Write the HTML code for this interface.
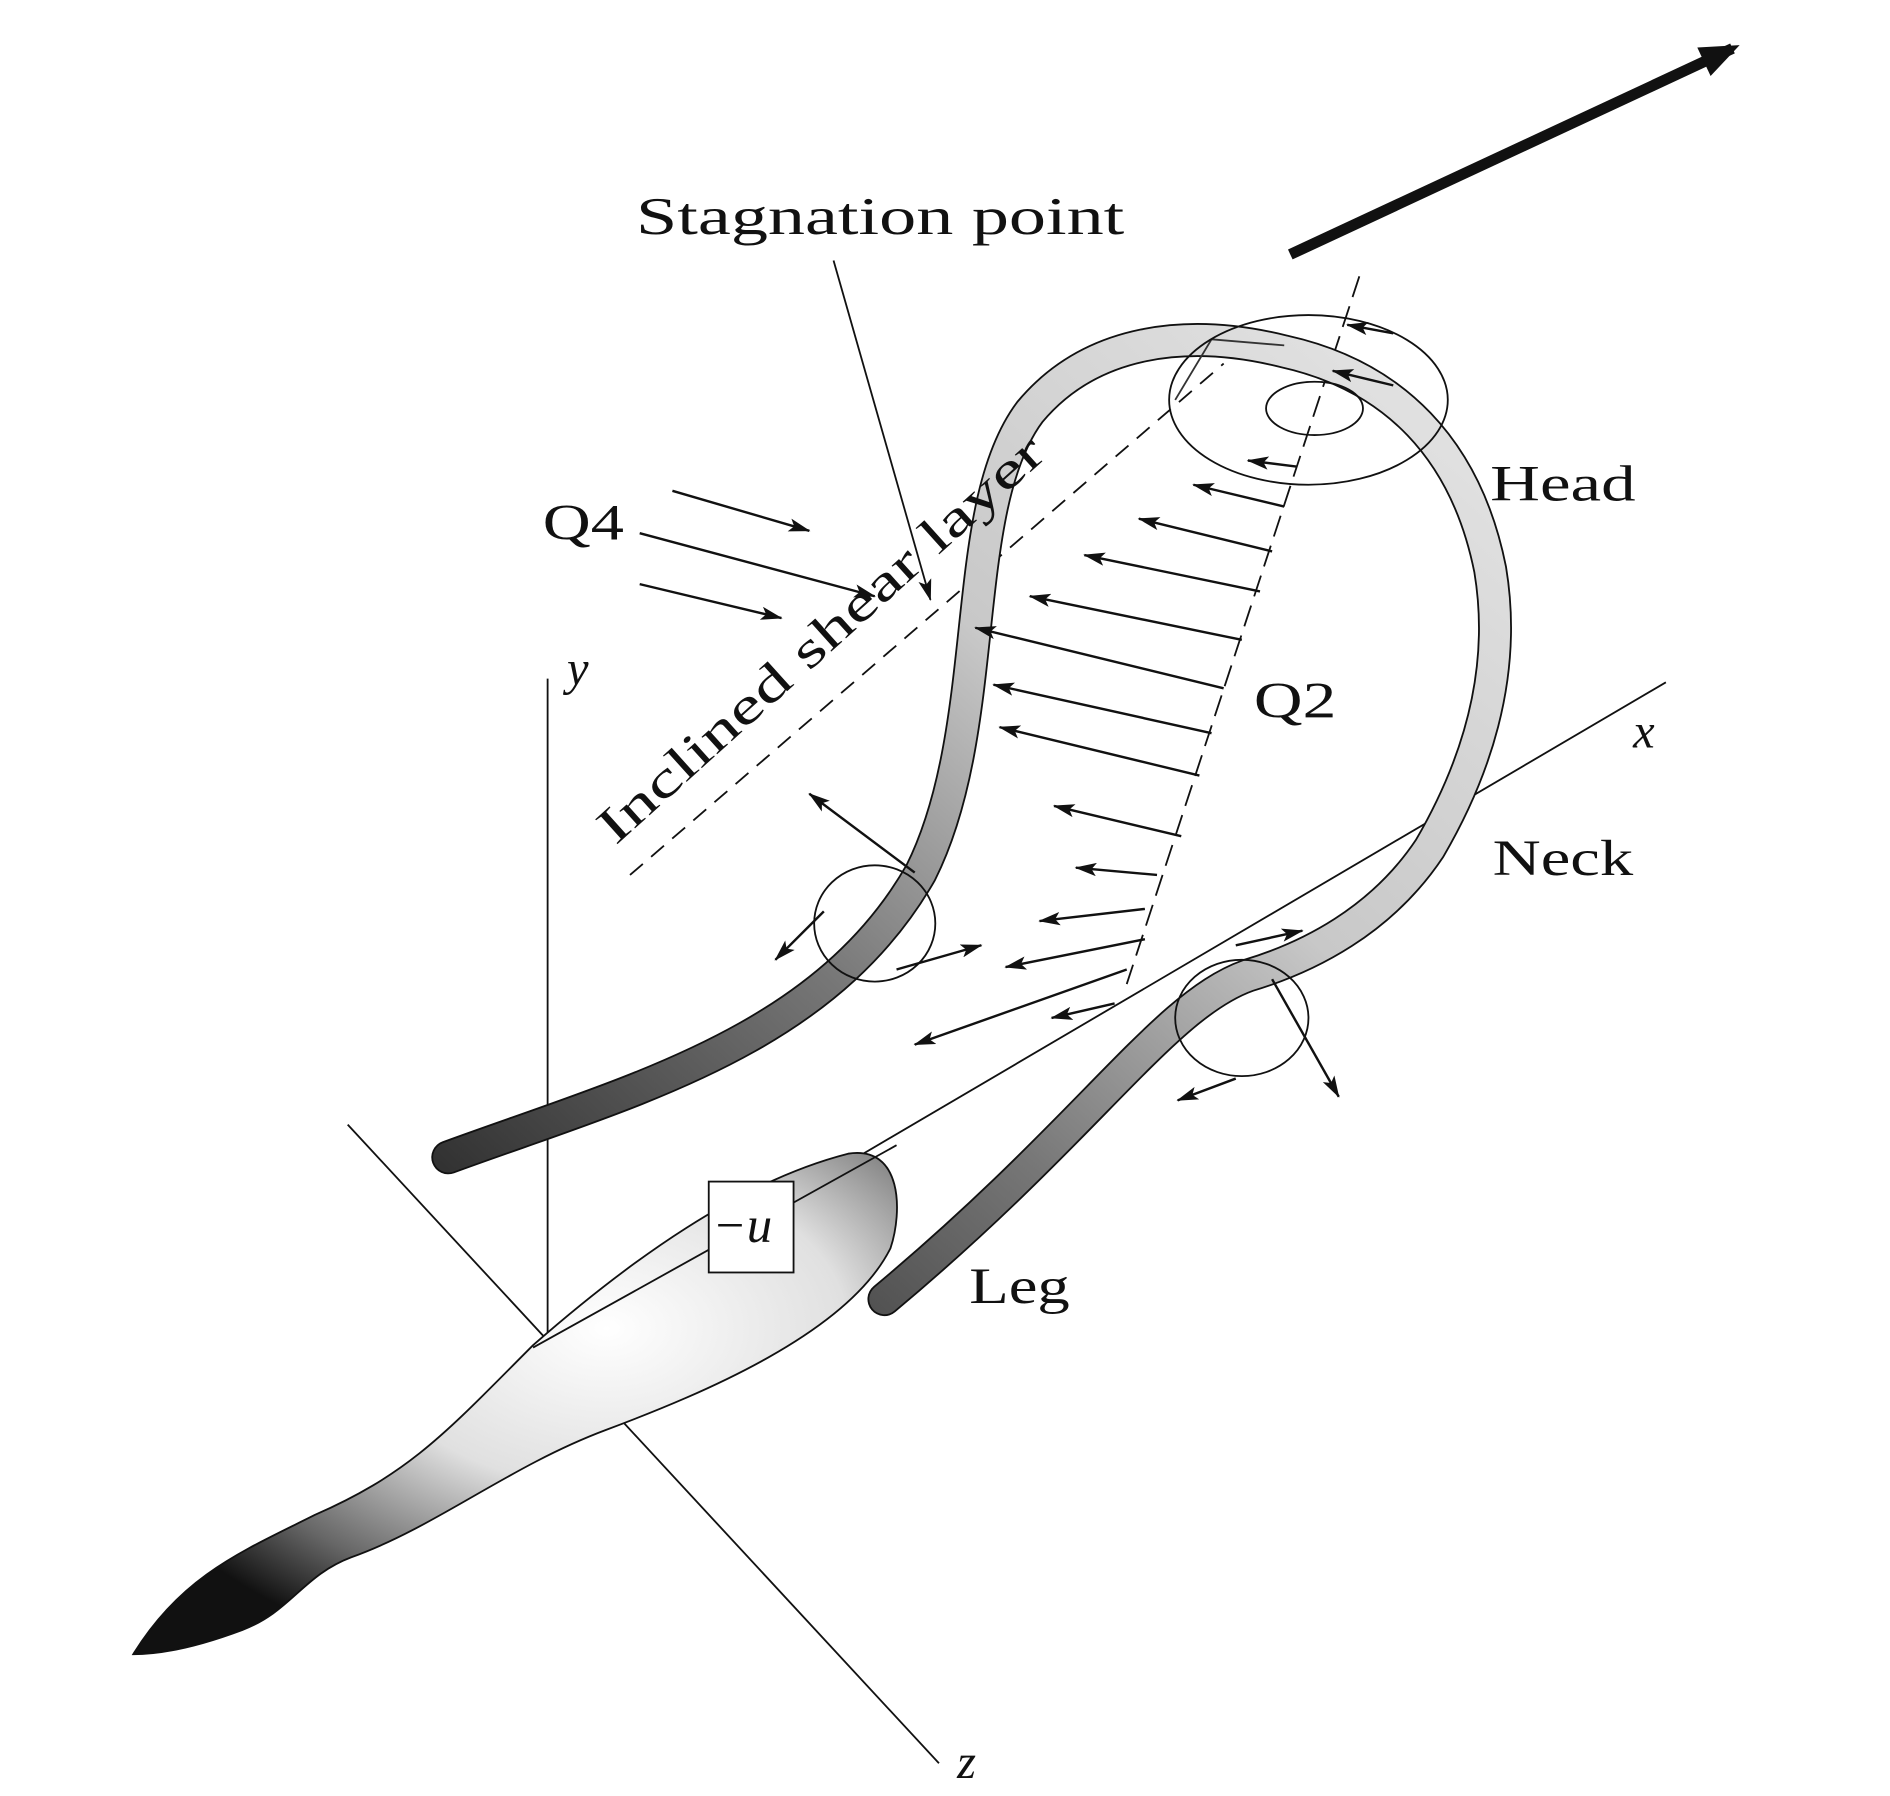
<!DOCTYPE html>
<html><head><meta charset="utf-8"><style>
html,body{margin:0;padding:0;background:#fff;}
svg{display:block;}
text{font-family:"Liberation Serif",serif;fill:#111;}
</style></head><body>
<svg width="1890" height="1796" viewBox="0 0 1560 1482" preserveAspectRatio="none" xmlns="http://www.w3.org/2000/svg">
<defs>
<marker id="a" markerWidth="18" markerHeight="11" refX="17" refY="5.5" orient="auto" markerUnits="userSpaceOnUse" viewBox="0 0 18 11">
<path d="M0,0 L18,5.5 L0,11 L4,5.5 z" fill="#111"/></marker>
<marker id="ab" viewBox="0 0 10 8" refX="8" refY="4" markerWidth="34" markerHeight="26" orient="auto" markerUnits="userSpaceOnUse">
<path d="M0,0 L10,4 L0,8 z" fill="#111"/></marker>
<linearGradient id="tube" x1="0" y1="1" x2="1" y2="0">
<stop offset="0" stop-color="#222"/><stop offset="0.35" stop-color="#777"/><stop offset="0.6" stop-color="#c8c8c8"/><stop offset="1" stop-color="#e6e6e6"/></linearGradient>
<radialGradient id="body" cx="0.62" cy="0.35" r="0.7">
<stop offset="0" stop-color="#fff"/><stop offset="0.45" stop-color="#e0e0e0"/><stop offset="0.8" stop-color="#666"/><stop offset="1" stop-color="#111"/></radialGradient>
</defs>
<g stroke="#111" fill="none">
<line x1="1065" y1="210" x2="1430" y2="40" stroke-width="9" marker-end="url(#ab)"/>
<line x1="452" y1="560" x2="452" y2="1110" stroke-width="1.5"/>
<line x1="440" y1="1112" x2="1375" y2="563" stroke-width="1.5"/>
<line x1="287" y1="928" x2="775" y2="1455" stroke-width="1.5"/>
<line x1="520" y1="722" x2="1010" y2="300" stroke-width="1.5" stroke-dasharray="14,9"/>
<line x1="1122" y1="228" x2="930" y2="812" stroke-width="1.5" stroke-dasharray="18,8"/>
<line x1="688" y1="215" x2="768" y2="495" stroke-width="1.5" marker-end="url(#a)"/>
<line x1="555" y1="405" x2="668" y2="438" stroke-width="2" marker-end="url(#a)"/>
<line x1="528" y1="440" x2="722" y2="492" stroke-width="2" marker-end="url(#a)"/>
<line x1="528" y1="482" x2="645" y2="510" stroke-width="2" marker-end="url(#a)"/>
</g>
<path d="M370,955 C520,900 680,860 760,720 C820,600 790,420 850,340 C900,280 980,270 1060,290 C1150,310 1210,370 1230,470 C1245,560 1215,640 1180,700 C1140,760 1080,790 1030,805 C960,830 900,930 730,1072"
 fill="none" stroke="#111" stroke-width="28" stroke-linecap="round"/>
<path d="M370,955 C520,900 680,860 760,720 C820,600 790,420 850,340 C900,280 980,270 1060,290 C1150,310 1210,370 1230,470 C1245,560 1215,640 1180,700 C1140,760 1080,790 1030,805 C960,830 900,930 730,1072"
 fill="none" stroke="url(#tube)" stroke-width="25" stroke-linecap="round"/>
<path d="M1000,280 L970,330 M1000,280 L1060,285" stroke="#333" stroke-width="1.5" fill="none"/>
<g stroke="#111" fill="none" stroke-width="1.5">
<ellipse cx="1080" cy="330" rx="115" ry="70"/>
<ellipse cx="1085" cy="337" rx="40" ry="22"/>
<ellipse cx="722" cy="762" rx="50" ry="48"/>
<ellipse cx="1025" cy="840" rx="55" ry="48"/>
</g>
<g stroke="#111" stroke-width="2" marker-end="url(#a)">
<line x1="1150" y1="275" x2="1112" y2="268"/>
<line x1="1150" y1="318" x2="1100" y2="306"/>
<line x1="1070" y1="385" x2="1030" y2="380"/>
<line x1="1060" y1="418" x2="985" y2="400"/>
<line x1="1050" y1="455" x2="940" y2="428"/>
<line x1="1040" y1="488" x2="895" y2="458"/>
<line x1="1025" y1="528" x2="850" y2="492"/>
<line x1="1010" y1="568" x2="805" y2="518"/>
<line x1="1000" y1="605" x2="820" y2="565"/>
<line x1="990" y1="640" x2="825" y2="600"/>
<line x1="975" y1="690" x2="870" y2="665"/>
<line x1="955" y1="722" x2="888" y2="716"/>
<line x1="945" y1="750" x2="858" y2="760"/>
<line x1="945" y1="775" x2="830" y2="798"/>
<line x1="930" y1="800" x2="755" y2="862"/>
<line x1="920" y1="828" x2="868" y2="840"/>
<line x1="755" y1="720" x2="668" y2="655"/>
<line x1="680" y1="752" x2="640" y2="792"/>
<line x1="740" y1="800" x2="810" y2="780"/>
<line x1="1050" y1="808" x2="1105" y2="905"/>
<line x1="1020" y1="780" x2="1075" y2="768"/>
<line x1="1020" y1="890" x2="972" y2="908"/>
</g>
<path d="M110,1365 C150,1300 200,1280 260,1250 C340,1215 370,1180 440,1110 C520,1040 610,975 700,952 C745,945 745,1000 735,1030 C700,1100 580,1150 500,1180 C420,1210 360,1260 290,1285 C250,1300 240,1330 200,1345 C160,1360 130,1365 110,1365 Z" fill="url(#body)" stroke="#111" stroke-width="1.5"/>
<line x1="440" y1="1112" x2="740" y2="945" stroke="#111" stroke-width="1.5"/>
<rect x="585" y="975" width="70" height="75" fill="#fff" stroke="#111" stroke-width="1.5"/>
<text x="525" y="193" font-size="44" textLength="403" lengthAdjust="spacingAndGlyphs">Stagnation point</text>
<text x="448" y="445" font-size="42" textLength="67" lengthAdjust="spacingAndGlyphs">Q4</text>
<text x="1035" y="592" font-size="42" textLength="68" lengthAdjust="spacingAndGlyphs">Q2</text>
<text x="1230" y="413" font-size="42" textLength="120" lengthAdjust="spacingAndGlyphs">Head</text>
<text x="1232" y="722" font-size="42" textLength="116" lengthAdjust="spacingAndGlyphs">Neck</text>
<text x="800" y="1075" font-size="42" textLength="83" lengthAdjust="spacingAndGlyphs">Leg</text>
<text x="468" y="565" font-size="40" font-style="italic">y</text>
<text x="1348" y="617" font-size="40" font-style="italic">x</text>
<text x="790" y="1467" font-size="40" font-style="italic">z</text>
<text x="588" y="1025" font-size="42" font-style="italic">−u</text>
<text x="0" y="0" font-size="42" textLength="480" lengthAdjust="spacingAndGlyphs" transform="translate(508,698) rotate(-42)">Inclined shear layer</text>
</svg>
</body></html>
